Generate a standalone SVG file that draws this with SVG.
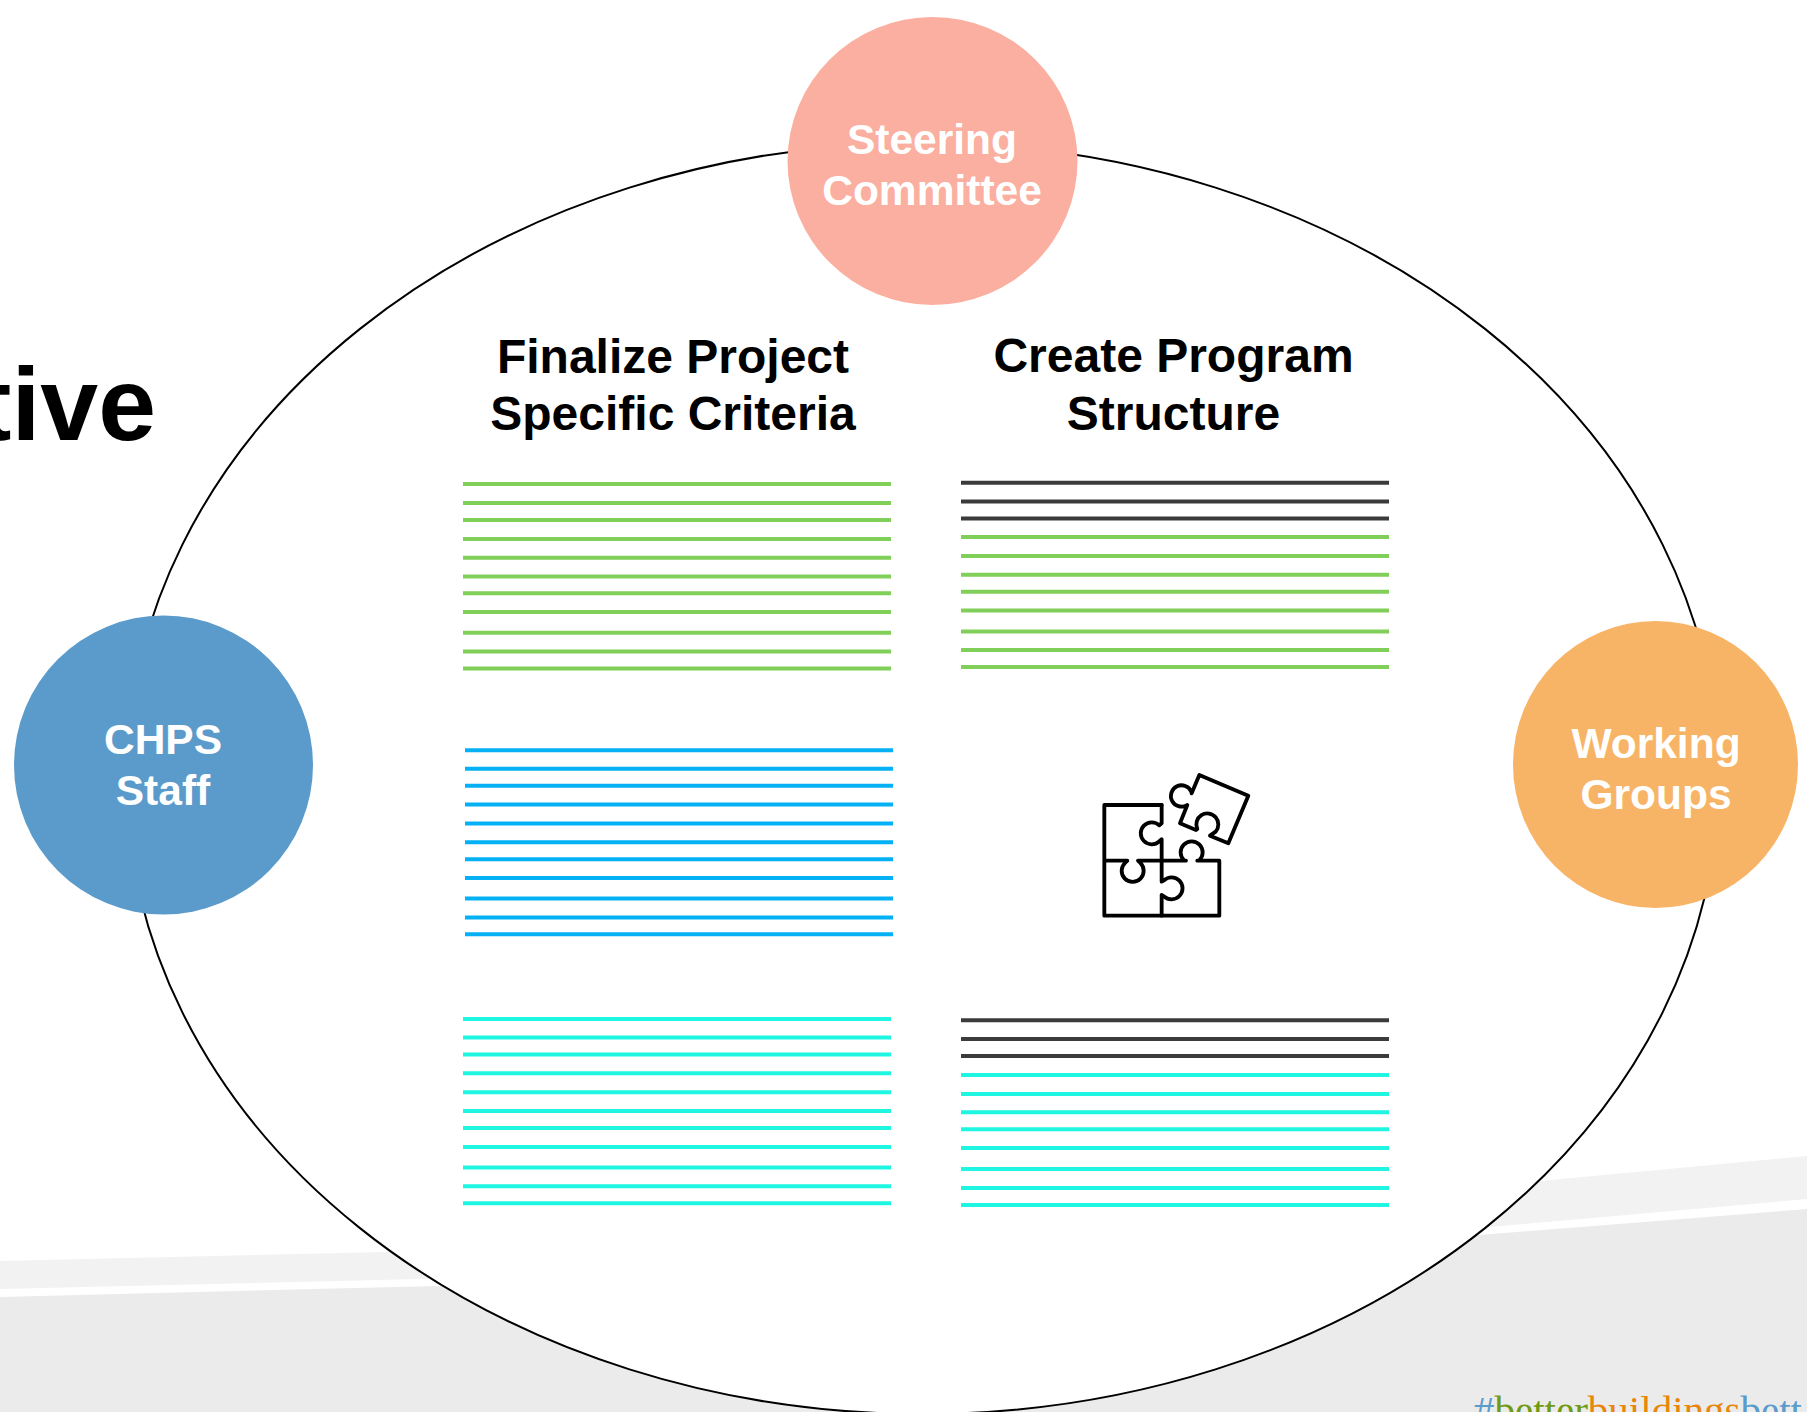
<svg xmlns="http://www.w3.org/2000/svg" width="1807" height="1412" viewBox="0 0 1807 1412">
<style>
text{font-family:"Liberation Sans",Arial,sans-serif;font-weight:700;text-anchor:middle}
.hd{font-size:48px;fill:#000}
.nd{font-size:42.500px;fill:#fff}
.g line,.b line,.c line,.k line{stroke-width:4}
.g line{stroke:#80CF58}
.b line{stroke:#05B1F5}
.c line{stroke:#1EF6E2}
.k line{stroke:#3B3B3B}
#puzzle path{fill:none;stroke:#000;stroke-width:11.500;stroke-linejoin:round;stroke-linecap:round}
</style>
<rect width="1807" height="1412" fill="#fff"/>
<g id="background">
<path d="M0 1261L430 1251L1100 1220L1540 1181L1807 1156V1199L1490 1227L1100 1254L420 1279L0 1289Z" fill="#F2F2F2"/>
<path d="M0 1297L437 1286L1100 1262L1480 1235L1807 1209V1412H0Z" fill="#EBEBEB"/>
</g>
<text x="156" y="440" style="font-size:104px;text-anchor:end" fill="#000">tive</text>
<ellipse id="cycle" cx="922.500" cy="778.500" rx="796" ry="635.500" fill="#fff" stroke="#000" stroke-width="2"/>
<text style="font-family:'Liberation Serif',serif;font-weight:400;font-size:41px;text-anchor:start" x="1474" y="1424"><tspan fill="#5B9BCB">#</tspan><tspan fill="#6F9A12">better</tspan><tspan fill="#E8860C">buildings</tspan><tspan fill="#5B9BCB">bett</tspan></text>
<g id="steering-committee"><ellipse cx="932.500" cy="161" rx="145" ry="144" fill="#FBAFA0"/><text class="nd" x="932" y="154">Steering</text><text class="nd" x="932" y="205">Committee</text></g>
<g id="chps-staff"><circle cx="163.500" cy="765" r="149.500" fill="#5B9BCB"/><text class="nd" x="163" y="754">CHPS</text><text class="nd" x="163" y="805">Staff</text></g>
<g id="working-groups"><ellipse cx="1655.500" cy="764.500" rx="142.500" ry="143.500" fill="#F8B466"/><text class="nd" x="1656" y="758">Working</text><text class="nd" x="1656" y="809">Groups</text></g>
<g id="finalize-heading"><text class="hd" x="673" y="373">Finalize Project</text><text class="hd" x="673" y="430">Specific Criteria</text></g>
<g id="create-heading"><text class="hd" x="1173.500" y="372">Create Program</text><text class="hd" x="1173.500" y="430">Structure</text></g>
<g id="lines-1" class="g">
<line x1="463" x2="891" y1="484" y2="484"/><line x1="463" x2="891" y1="503" y2="503"/><line x1="463" x2="891" y1="520" y2="520"/><line x1="463" x2="891" y1="539" y2="539"/><line x1="463" x2="891" y1="557.700" y2="557.700"/><line x1="463" x2="891" y1="576.500" y2="576.500"/><line x1="463" x2="891" y1="593.300" y2="593.300"/><line x1="463" x2="891" y1="612" y2="612"/><line x1="463" x2="891" y1="632.800" y2="632.800"/><line x1="463" x2="891" y1="651.500" y2="651.500"/><line x1="463" x2="891" y1="668.500" y2="668.500"/>
</g>
<g id="lines-2-dark" class="k">
<line x1="961" x2="1389" y1="482.700" y2="482.700"/><line x1="961" x2="1389" y1="501.500" y2="501.500"/><line x1="961" x2="1389" y1="518.400" y2="518.400"/>
</g>
<g id="lines-2" class="g">
<line x1="961" x2="1389" y1="537" y2="537"/><line x1="961" x2="1389" y1="556" y2="556"/><line x1="961" x2="1389" y1="574.800" y2="574.800"/><line x1="961" x2="1389" y1="591.700" y2="591.700"/><line x1="961" x2="1389" y1="610.600" y2="610.600"/><line x1="961" x2="1389" y1="631.400" y2="631.400"/><line x1="961" x2="1389" y1="650" y2="650"/><line x1="961" x2="1389" y1="667" y2="667"/>
</g>
<g id="lines-3" class="b">
<line x1="465" x2="893" y1="750.200" y2="750.200"/><line x1="465" x2="893" y1="768.700" y2="768.700"/><line x1="465" x2="893" y1="785.700" y2="785.700"/><line x1="465" x2="893" y1="804.500" y2="804.500"/><line x1="465" x2="893" y1="823.400" y2="823.400"/><line x1="465" x2="893" y1="842.300" y2="842.300"/><line x1="465" x2="893" y1="859.300" y2="859.300"/><line x1="465" x2="893" y1="878" y2="878"/><line x1="465" x2="893" y1="898.600" y2="898.600"/><line x1="465" x2="893" y1="917.500" y2="917.500"/><line x1="465" x2="893" y1="934.300" y2="934.300"/>
</g>
<g id="lines-4" class="c">
<line x1="463" x2="891" y1="1019" y2="1019"/><line x1="463" x2="891" y1="1037.500" y2="1037.500"/><line x1="463" x2="891" y1="1054.400" y2="1054.400"/><line x1="463" x2="891" y1="1073.300" y2="1073.300"/><line x1="463" x2="891" y1="1092.200" y2="1092.200"/><line x1="463" x2="891" y1="1111" y2="1111"/><line x1="463" x2="891" y1="1128" y2="1128"/><line x1="463" x2="891" y1="1147" y2="1147"/><line x1="463" x2="891" y1="1167.500" y2="1167.500"/><line x1="463" x2="891" y1="1186.300" y2="1186.300"/><line x1="463" x2="891" y1="1203.300" y2="1203.300"/>
</g>
<g id="lines-5-dark" class="k">
<line x1="961" x2="1389" y1="1020.300" y2="1020.300"/><line x1="961" x2="1389" y1="1039" y2="1039"/><line x1="961" x2="1389" y1="1056" y2="1056"/>
</g>
<g id="lines-5" class="c">
<line x1="961" x2="1389" y1="1075" y2="1075"/><line x1="961" x2="1389" y1="1094" y2="1094"/><line x1="961" x2="1389" y1="1112.300" y2="1112.300"/><line x1="961" x2="1389" y1="1129.300" y2="1129.300"/><line x1="961" x2="1389" y1="1148" y2="1148"/><line x1="961" x2="1389" y1="1169" y2="1169"/><line x1="961" x2="1389" y1="1188" y2="1188"/><line x1="961" x2="1389" y1="1205" y2="1205"/>
</g>
<g id="puzzle" transform="translate(1050 740) scale(.3333)">
<path d="M335 195H163V527H508V362H442L448 361A33 33 0 1 0 402 361L408 362H335M163 362H232L225 369A33 33 0 1 0 271 369L264 362H335"/>
<path d="M335 195V250L328 256A33 33 0 1 0 328 304L335 298V425L342 421A33 33 0 1 1 342 469L335 465V527"/>
<path d="M448 105L595 167L535 310L480 287L497 275A33 33 0 1 0 442 267L438 270L390 250L412 195L410 196A32 32 0 1 1 424 155L425 160Z"/>
</g>
</svg>
